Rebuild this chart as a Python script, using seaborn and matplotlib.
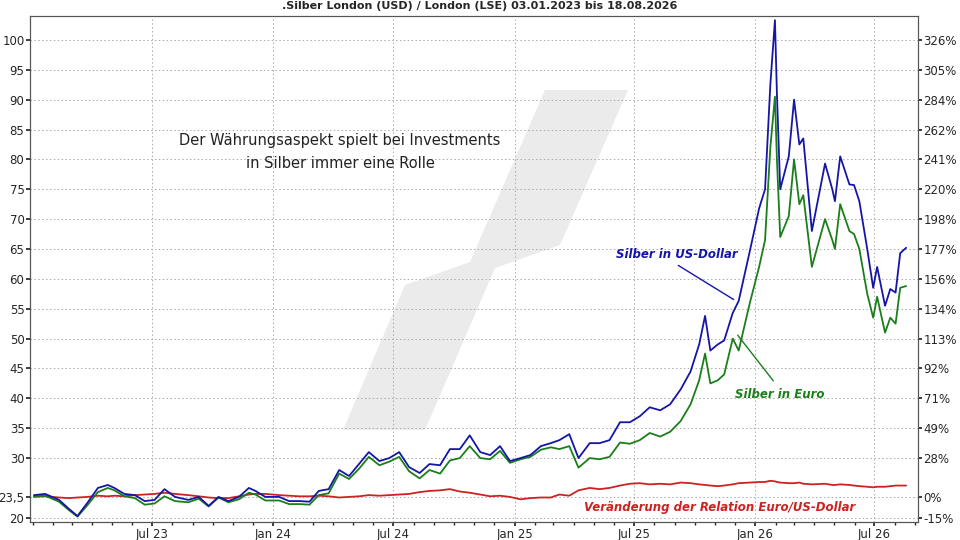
import matplotlib
matplotlib.use("Agg")
import matplotlib.pyplot as plt
import matplotlib.dates as mdates
from matplotlib.patches import Polygon
import pandas as pd
import seaborn as sns

sns.set_theme(style="white")
plt.rcParams['font.family'] = ['DejaVu Sans']

dates = ["2023-01-03", "2023-01-20", "2023-02-10", "2023-02-25", "2023-03-10", "2023-03-25",
         "2023-04-10", "2023-04-25", "2023-05-05", "2023-05-20", "2023-06-05", "2023-06-20",
         "2023-07-05", "2023-07-20", "2023-08-05", "2023-08-25", "2023-09-10", "2023-09-25",
         "2023-10-10", "2023-10-25", "2023-11-10", "2023-11-25", "2023-12-05", "2023-12-20",
         "2024-01-10", "2024-01-25", "2024-02-10", "2024-02-25", "2024-03-10", "2024-03-25",
         "2024-04-10", "2024-04-25", "2024-05-10", "2024-05-25", "2024-06-10", "2024-06-25",
         "2024-07-10", "2024-07-25", "2024-08-10", "2024-08-25", "2024-09-10", "2024-09-25",
         "2024-10-10", "2024-10-25", "2024-11-10", "2024-11-25", "2024-12-10", "2024-12-25",
         "2025-01-10", "2025-01-25", "2025-02-10", "2025-02-25", "2025-03-10", "2025-03-25",
         "2025-04-08", "2025-04-25", "2025-05-10", "2025-05-25", "2025-06-10", "2025-06-25",
         "2025-07-10", "2025-07-25", "2025-08-10", "2025-08-25", "2025-09-10", "2025-09-25",
         "2025-10-08", "2025-10-17", "2025-10-25", "2025-11-05", "2025-11-15", "2025-11-28",
         "2025-12-07", "2025-12-24", "2026-01-07", "2026-01-16", "2026-01-24", "2026-01-31",
         "2026-02-03", "2026-02-08", "2026-02-21", "2026-03-01", "2026-03-09", "2026-03-15",
         "2026-03-28", "2026-04-17", "2026-04-28", "2026-05-02", "2026-05-10", "2026-05-24",
         "2026-05-31", "2026-06-08", "2026-06-20", "2026-06-29", "2026-07-05", "2026-07-17",
         "2026-07-25", "2026-08-02", "2026-08-09", "2026-08-18"]

silber_usd = [23.8, 24.0, 23.0, 21.5, 20.3, 22.5,
              25.0, 25.5, 25.0, 24.0, 23.8, 22.8,
              23.0, 24.8, 23.5, 23.0, 23.5, 22.0,
              23.5, 22.8, 23.5, 25.0, 24.5, 23.5,
              23.5, 22.8, 22.8, 22.7, 24.5, 24.8,
              28.0, 27.0, 29.0, 31.0, 29.5, 30.0,
              31.0, 28.5, 27.5, 29.0, 28.8, 31.5,
              31.5, 33.8, 31.0, 30.5, 32.0, 29.5,
              30.0, 30.5, 32.0, 32.5, 33.0, 34.0,
              30.0, 32.5, 32.5, 33.0, 36.0, 36.0,
              37.0, 38.5, 38.0, 39.0, 41.5, 44.5,
              49.0, 53.8, 48.0, 49.0, 49.7, 54.3,
              56.3, 64.7, 71.8, 75.0, 92.5, 103.3,
              91.0, 75.0, 80.5, 90.0, 82.5, 83.5,
              68.0, 79.3, 75.0, 73.0, 80.5, 75.8,
              75.7, 73.0, 65.0, 58.5, 62.0, 55.5,
              58.3, 57.7, 64.3, 65.2]

silber_eur = [23.6, 23.7, 22.7, 21.3, 20.2, 22.1,
              24.3, 25.0, 24.6, 23.6, 23.3, 22.2,
              22.4, 23.6, 22.8, 22.6, 23.2, 21.9,
              23.4, 22.6, 23.1, 24.2, 23.9, 22.9,
              22.9, 22.3, 22.3, 22.2, 23.8, 24.1,
              27.4, 26.5, 28.2, 30.2, 28.8, 29.4,
              30.2, 27.8, 26.6, 28.0, 27.4, 29.6,
              30.0, 32.0, 30.0, 29.8, 31.2, 29.2,
              29.8, 30.2, 31.4, 31.8, 31.5, 32.0,
              28.4, 30.0, 29.8, 30.2, 32.6, 32.4,
              33.0, 34.2, 33.6, 34.4, 36.2, 39.0,
              43.0, 47.5, 42.5, 43.0, 44.0, 50.0,
              48.0, 56.0, 62.0, 66.5, 82.0, 90.5,
              80.0, 67.0, 70.5, 80.0, 72.5, 74.0,
              62.0, 70.0, 66.5, 65.0, 72.5, 68.0,
              67.5, 65.0, 57.5, 53.5, 57.0, 51.0,
              53.5, 52.5, 58.5, 58.8]

relation_eurusd = [23.5, 23.6, 23.4, 23.3, 23.4, 23.5,
                   23.7, 23.6, 23.7, 23.6, 23.8, 23.9,
                   24.0, 24.2, 24.0, 23.8, 23.6, 23.4,
                   23.3, 23.3, 23.6, 23.9, 24.0, 24.0,
                   23.8, 23.7, 23.6, 23.6, 23.7, 23.6,
                   23.4, 23.5, 23.6, 23.8, 23.7, 23.8,
                   23.9, 24.0, 24.3, 24.5, 24.6, 24.8,
                   24.4, 24.2, 23.9, 23.6, 23.7, 23.5,
                   23.1, 23.3, 23.4, 23.4, 23.9, 23.7,
                   24.6, 25.0, 24.8, 25.0, 25.4, 25.7,
                   25.8, 25.6, 25.7, 25.6, 25.9, 25.8,
                   25.6, 25.5, 25.4, 25.3, 25.4, 25.6,
                   25.8, 25.9, 26.0, 26.0, 26.2, 26.1,
                   26.0, 25.9, 25.8, 25.8, 25.9, 25.7,
                   25.6, 25.7, 25.5, 25.5, 25.6, 25.5,
                   25.4, 25.3, 25.2, 25.1, 25.2, 25.2,
                   25.3, 25.4, 25.4, 25.4]

left_ticks = [20, 23.5, 30, 35, 40, 45, 50, 55, 60, 65, 70, 75, 80, 85, 90, 95, 100]
left_labels = ["20", "23,5", "30", "35", "40", "45", "50", "55", "60", "65", "70",
               "75", "80", "85", "90", "95", "100"]
right_labels = ["-15%", "0%", "28%", "49%", "71%", "92%", "113%", "134%", "156%", "177%",
                "198%", "220%", "241%", "262%", "284%", "305%", "326%"]
x_ticks = ["2023-07-01", "2024-01-01", "2024-07-01", "2025-01-01", "2025-07-01",
           "2026-01-01", "2026-07-01"]
x_labels = ["Jul 23", "Jan 24", "Jul 24", "Jan 25", "Jul 25", "Jan 26", "Jul 26"]

df = pd.DataFrame({"date": pd.to_datetime(dates), "usd": silber_usd,
                   "eur": silber_eur, "fx": relation_eurusd})

fig = plt.figure(figsize=(9.6, 5.4), dpi=100)
ax = fig.add_axes([30 / 960, 18 / 540, 888 / 960, 506 / 540])


def px(x, y):
    return ((x - 30) / 888, (522 - y) / 506)


# watermark
wm = [(545, 90), (628, 90), (560, 245), (495, 268), (425, 430), (343, 430), (405, 285), (470, 262)]
ax.add_patch(Polygon([px(x, y) for x, y in wm], closed=True, transform=ax.transAxes,
                     color="#ebebeb", zorder=0, lw=0))

sns.lineplot(data=df, x="date", y="fx", ax=ax, color="#cc2222", lw=1.3)
sns.lineplot(data=df, x="date", y="eur", ax=ax, color="#1a7f1a", lw=1.3)
sns.lineplot(data=df, x="date", y="usd", ax=ax, color="#1515a8", lw=1.3)

ax.set_ylim(19.3, 104)
ax.set_xlim(pd.Timestamp("2022-12-28"), pd.Timestamp("2026-09-05"))
ax.set_yticks(left_ticks)
ax.set_yticklabels(left_labels)
ax.set_xticks(pd.to_datetime(x_ticks))
ax.set_xticklabels(x_labels)
ax.xaxis.set_minor_locator(mdates.MonthLocator())
ax.set_xlabel(None)
ax.set_ylabel(None)
ax.grid(True, which="major", ls=(0, (1.5, 2.5)), color="#aaaaaa", lw=0.7)
ax.tick_params(axis="both", labelsize=8.5, length=3, pad=1, left=True, bottom=True)
ax.tick_params(axis="x", which="minor", length=2, bottom=True)

ax2 = ax.twinx()
ax2.set_ylim(ax.get_ylim())
ax2.set_yticks(left_ticks)
ax2.set_yticklabels(right_labels)
ax2.tick_params(axis="y", labelsize=8.5, length=3, pad=1, right=True)
for a in (ax, ax2):
    for s in a.spines.values():
        s.set_color("#555555")
        s.set_linewidth(0.8)

fig.text(0.5, 0.999, ".Silber London (USD) / London (LSE) 03.01.2023 bis 18.08.2026",
         ha="center", va="top", fontsize=8, fontweight="bold")

ax.text(*px(340, 152), "Der Währungsaspekt spielt bei Investments\nin Silber immer eine Rolle",
        transform=ax.transAxes, ha="center", va="center", fontsize=10.5, color="#222222",
        linespacing=1.6)
ax.text(*px(677, 254), "Silber in US-Dollar", transform=ax.transAxes, ha="center", va="center",
        fontsize=8.5, style="italic", fontweight="bold", color="#1515a8")
ax.annotate("", xy=px(736, 301), xytext=px(676, 264), xycoords="axes fraction",
            arrowprops=dict(arrowstyle="-", color="#1515a8", lw=1))
ax.text(*px(780, 395), "Silber in Euro", transform=ax.transAxes, ha="center", va="center",
        fontsize=8.5, style="italic", fontweight="bold", color="#1a7f1a")
ax.annotate("", xy=px(736, 333), xytext=px(775, 383), xycoords="axes fraction",
            arrowprops=dict(arrowstyle="-", color="#1a7f1a", lw=1))
ax.text(*px(720, 507), "Veränderung der Relation Euro/US-Dollar", transform=ax.transAxes,
        ha="center", va="center", fontsize=8.5, style="italic", fontweight="bold",
        color="#cc2222")

fig.savefig("out.png", dpi=100)
